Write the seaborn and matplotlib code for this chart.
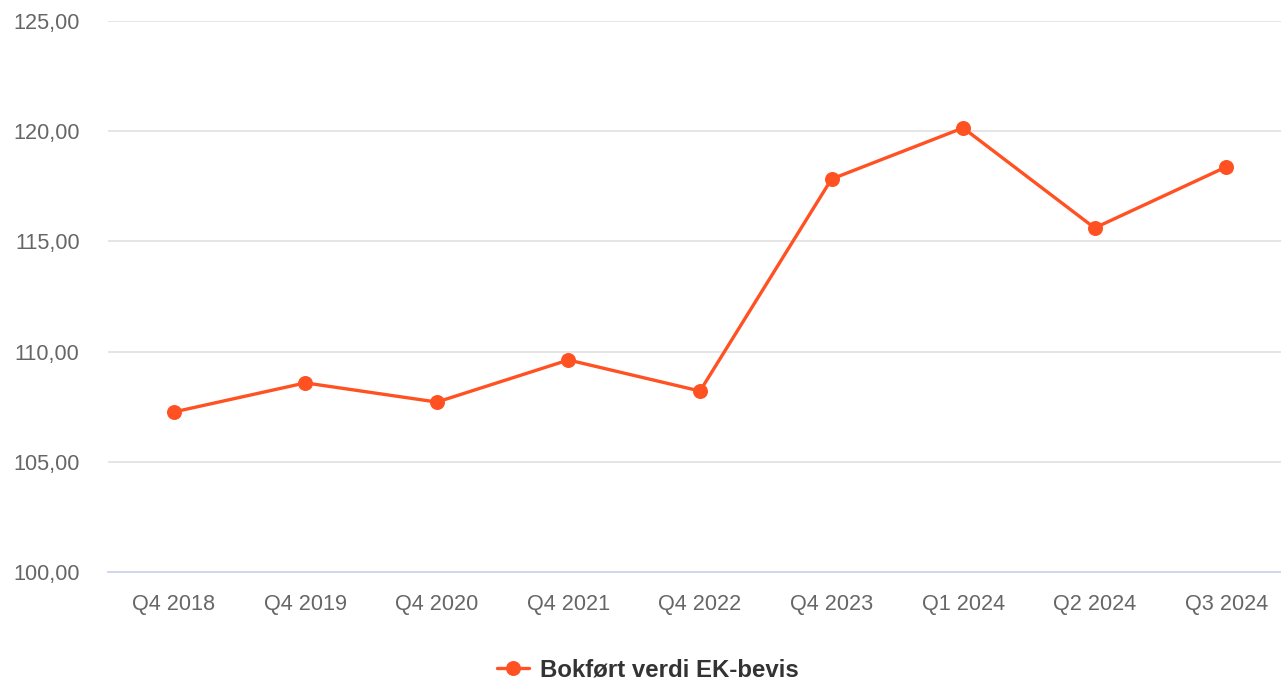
import matplotlib
matplotlib.use("Agg")
import matplotlib.pyplot as plt
import seaborn as sns
import pandas as pd

quarters = ["Q4 2018", "Q4 2019", "Q4 2020", "Q4 2021", "Q4 2022",
            "Q4 2023", "Q1 2024", "Q2 2024", "Q3 2024"]
values = [107.26, 108.58, 107.71, 109.62, 108.21, 117.83, 120.15, 115.61, 118.38]
series_name = "Bokført verdi EK-bevis"

df = pd.DataFrame({"quarter": quarters, "value": values})

sns.set_theme(style="white")
plt.rcParams["font.family"] = ["Liberation Sans", "DejaVu Sans"]

color = "#ff5121"
fig = plt.figure(figsize=(12.81, 6.8), dpi=100)
# plot area runs slightly past the right edge, as in the reference
ax = fig.add_axes([108 / 1281, 1 - 572 / 680, 1184 / 1281, 551 / 680])

sns.lineplot(data=df, x="quarter", y="value", ax=ax, color=color,
             linewidth=2.4, marker="o", markersize=10.8,
             markeredgewidth=0, label=series_name, sort=False)

ax.set_xlim(-0.5, len(quarters) - 0.5)
ax.set_ylim(100, 125)
ax.set_yticks(range(100, 126, 5))
ax.set_yticklabels([f"{v},00" for v in range(100, 126, 5)])
ax.set_xlabel("")
ax.set_ylabel("")
ax.yaxis.grid(True, color="#e3e3e3", linewidth=1.3)
ax.set_axisbelow(True)
for s in ["top", "right", "left"]:
    ax.spines[s].set_visible(False)
ax.spines["bottom"].set_color("#ccd6eb")
ax.spines["bottom"].set_linewidth(1.3)
ax.tick_params(axis="both", length=0, labelsize=15.6, colors="#666666")
ax.tick_params(axis="y", pad=20.5)
ax.tick_params(axis="x", pad=15.5)

ax.get_legend().remove()
handles, labels = ax.get_legend_handles_labels()
leg = fig.legend(handles, labels, loc="center",
                 bbox_to_anchor=(0.5 + 7 / 1281, 1 - 670 / 680),
                 frameon=False, prop={"weight": "bold", "size": 17.3},
                 handlelength=1.35, handletextpad=0.45)
for t in leg.get_texts():
    t.set_color("#333333")

fig.savefig("out.png", dpi=100)
